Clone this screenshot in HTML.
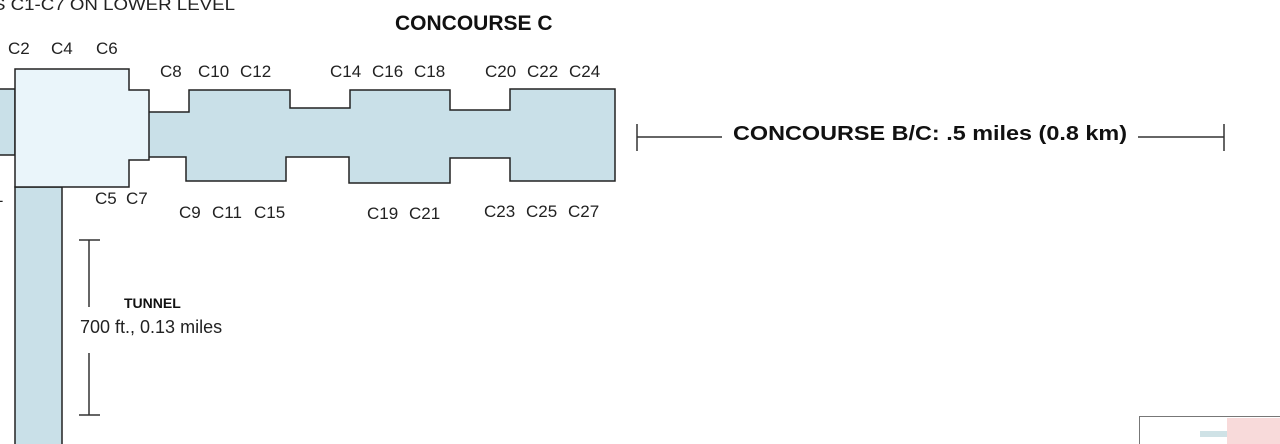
<!DOCTYPE html>
<html><head><style>body{margin:0;background:#fff}svg{display:block}</style></head>
<body>
<svg width="1280" height="444" viewBox="0 0 1280 444" xmlns="http://www.w3.org/2000/svg" font-family="Liberation Sans, Arial, sans-serif">
<rect width="1280" height="444" fill="#fff"/>
<rect x="-2" y="89" width="17" height="66" fill="#c9e0e8" stroke="#222" stroke-width="1.5"/>
<rect x="15" y="187" width="47" height="260" fill="#c9e0e8" stroke="#222" stroke-width="1.5"/>
<polygon points="148,112 189,112 189,90 290,90 290,108 350,108 350,90 450,90 450,110 510,110 510,89 615,89 615,181 510,181 510,158 450,158 450,183 349,183 349,157 286,157 286,181 186,181 186,157 148,157" fill="#c9e0e8" stroke="#222" stroke-width="1.5"/>
<polygon points="15,69 129,69 129,90 149,90 149,160 129,160 129,187 15,187" fill="#eaf5fa" stroke="#222" stroke-width="1.5"/>
<g font-size="17" fill="#222">
<text x="-7" y="10" textLength="242" lengthAdjust="spacingAndGlyphs">S C1-C7 ON LOWER LEVEL</text>
<text x="8" y="54">C2</text><text x="51" y="54">C4</text><text x="96" y="54">C6</text>
<text x="160" y="77">C8</text><text x="198" y="77">C10</text><text x="240" y="77">C12</text>
<text x="330" y="77">C14</text><text x="372" y="77">C16</text><text x="414" y="77">C18</text>
<text x="485" y="77">C20</text><text x="527" y="77">C22</text><text x="569" y="77">C24</text>
<text x="95" y="204">C5</text><text x="126" y="204">C7</text>
<text x="179" y="218">C9</text><text x="212" y="218">C11</text><text x="254" y="218">C15</text>
<text x="367" y="219">C19</text><text x="409" y="219">C21</text>
<text x="484" y="217">C23</text><text x="526" y="217">C25</text><text x="568" y="217">C27</text>
<text x="-6" y="202">1</text>
<text x="80" y="333" font-size="18">700 ft., 0.13 miles</text>
</g>
<text x="395" y="30" font-size="21" font-weight="bold" fill="#111">CONCOURSE C</text>
<text x="124" y="308" font-size="14" font-weight="bold" fill="#111">TUNNEL</text>
<text x="733" y="140" font-size="20" font-weight="bold" fill="#111" textLength="394" lengthAdjust="spacingAndGlyphs">CONCOURSE B/C: .5 miles (0.8 km)</text>
<g stroke="#333" stroke-width="1.5">
<line x1="637" y1="137" x2="722" y2="137"/><line x1="1138" y1="137" x2="1224" y2="137"/>
<line x1="637" y1="124" x2="637" y2="151"/><line x1="1224" y1="124" x2="1224" y2="151"/>
<line x1="89" y1="240" x2="89" y2="307"/><line x1="89" y1="353" x2="89" y2="415"/>
<line x1="79" y1="240" x2="100" y2="240"/><line x1="79" y1="415" x2="100" y2="415"/>
</g>
<rect x="1139.5" y="416.5" width="145" height="40" fill="#fff" stroke="#777"/>
<rect x="1227" y="418" width="53" height="26" fill="#f8dada"/>
<rect x="1200" y="431" width="27" height="6" fill="#cfe2e6"/>
</svg>
</body></html>
